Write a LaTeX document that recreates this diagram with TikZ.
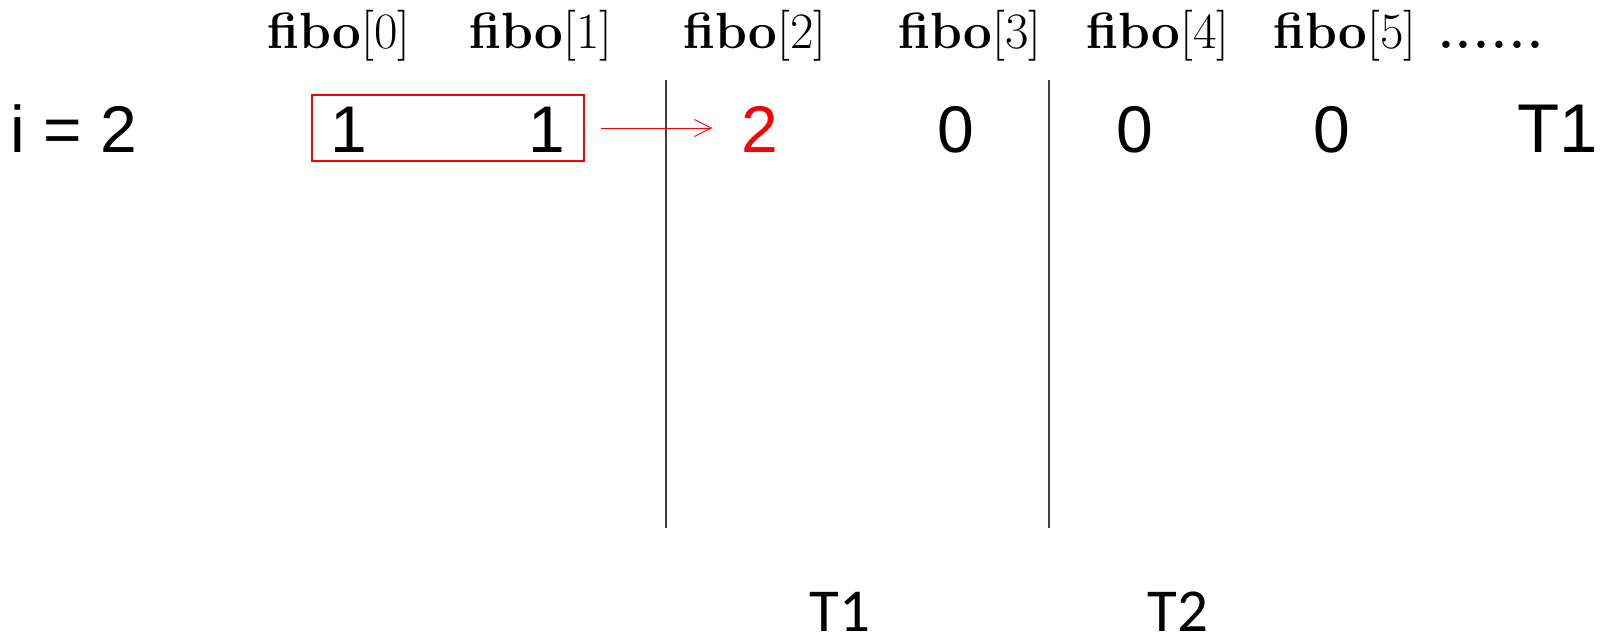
\documentclass[tikz,border=0pt]{standalone}
\usepackage{fontspec}
\newfontfamily\arialf{Liberation Sans}
\newfontfamily\calf{Carlito}
\usetikzlibrary{arrows.meta}
\newcommand{\fib}[1]{\textbf{fibo}[#1]}
\tikzset{
  hdr/.style={anchor=base, inner sep=0pt, font=\fontsize{51}{54}\selectfont},
  num/.style={anchor=base, inner sep=0pt, font=\fontsize{66}{70}\selectfont\arialf},
  thr/.style={anchor=base, inner sep=0pt, font=\fontsize{61}{64}\selectfont\calf},
  sep/.style={line width=1.3pt, draw=black!75},
  hl/.style={draw=red, line width=2.5pt, minimum width=272pt, minimum height=66pt, inner sep=0pt},
  cpy/.style={draw=red, line width=0.9pt, -{Straight Barb[length=17pt,width=17pt,line width=0.9pt]}}
}
\begin{document}
\begin{tikzpicture}[x=1pt,y=-1pt]
\useasboundingbox (0,0) rectangle (1604,636);
% header
\node[hdr] (f0) at (339,49) {\fib{0}};
\node[hdr] (f1) at (541,49) {\fib{1}};
\node[hdr] (f2) at (755,49) {\fib{2}};
\node[hdr] (f3) at (970,49) {\fib{3}};
\node[hdr] (f4) at (1158,49) {\fib{4}};
\node[hdr] (f5) at (1345,49) {\fib{5}};
\node[hdr, anchor=base west] (dots) at (1438,49) {\bfseries .\kern1.8pt.\kern1.8pt.\kern1.8pt.\kern1.8pt.\kern1.8pt.};
% separators
\coordinate (v1t) at (666,80); \coordinate (v1b) at (666,528);
\coordinate (v2t) at (1049,80); \coordinate (v2b) at (1049,528);
\draw[sep] (v1t) -- (v1b);
\draw[sep] (v2t) -- (v2b);
% row
\node[num, anchor=base west] (iv) at (10,153) {i = 2};
\node[hl] (box) at (448,128) {};
\node[num] (a0) at (349,153) {1};
\node[num] (a1) at (547,153) {1};
\node[num, text=red] (two) at (760,153) {2};
\node[num] (a3) at (956,153) {0};
\node[num] (a4) at (1135,153) {0};
\node[num] (a5) at (1332,153) {0};
\node[num, anchor=base east, font=\fontsize{69}{72}\selectfont\arialf] (tr) at (1598,153) {T1};
\draw[cpy, shorten <=16pt, shorten >=29pt] (box.east) -- (box.east -| two.west);
% bottom
\node[thr] (t1) at (840,631) {T1};
\node[thr] (t2) at (1178,631) {T2};
\end{tikzpicture}
\end{document}
